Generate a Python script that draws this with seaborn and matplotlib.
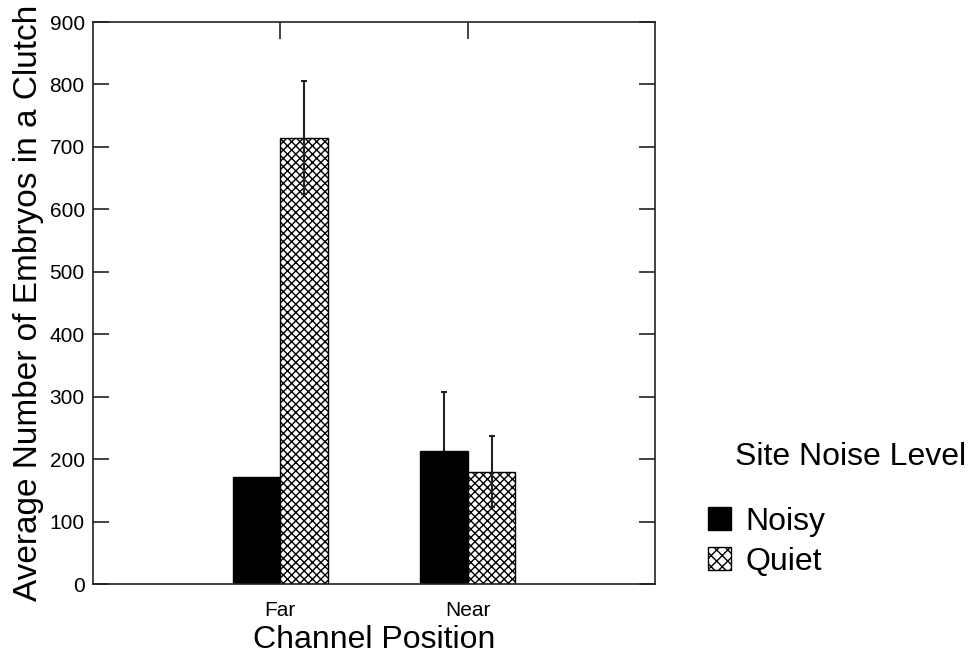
import matplotlib
matplotlib.use("Agg")
import matplotlib.pyplot as plt
from matplotlib.patches import Patch
import seaborn as sns
import pandas as pd

# ---- data ----
positions = ["Far", "Near"]
noise_levels = ["Noisy", "Quiet"]
noisy_means = [172, 213]
quiet_means = [715, 180]
noisy_err = [0, 95]
quiet_err = [90, 57]
y_ticks = [0, 100, 200, 300, 400, 500, 600, 700, 800, 900]

rows = []
for i, p in enumerate(positions):
    rows.append({"Channel Position": p, "Noise": "Noisy", "Value": noisy_means[i], "Err": noisy_err[i]})
    rows.append({"Channel Position": p, "Noise": "Quiet", "Value": quiet_means[i], "Err": quiet_err[i]})
df = pd.DataFrame(rows)

sns.set_style("white")
plt.rcParams["font.family"] = ["Liberation Sans", "DejaVu Sans"]
plt.rcParams["hatch.linewidth"] = 1.0
plt.rcParams["hatch.color"] = "black"
plt.rcParams["text.color"] = "black"
plt.rcParams["axes.labelcolor"] = "black"
plt.rcParams["xtick.color"] = "black"
plt.rcParams["ytick.color"] = "black"

W, H = 976, 657
fig = plt.figure(figsize=(W / 100, H / 100), dpi=100)
ax = fig.add_axes([93 / W, 73 / H, 562 / W, 562 / H])

sns.barplot(data=df, x="Channel Position", y="Value", hue="Noise",
            order=positions, hue_order=noise_levels,
            palette={"Noisy": "black", "Quiet": "white"},
            width=0.51, errorbar=None, legend=False,
            edgecolor="black", linewidth=1.0, ax=ax)

errs = {"Noisy": noisy_err, "Quiet": quiet_err}
for lvl, cont in zip(noise_levels, ax.containers):
    xs, ys, es = [], [], []
    for j, bar in enumerate(cont):
        if lvl == "Quiet":
            bar.set_hatch("xxxx")
        e = errs[lvl][j]
        if e > 0:
            xs.append(bar.get_x() + bar.get_width() / 2)
            ys.append(bar.get_height())
            es.append(e)
    if xs:
        z = 0.5 if lvl == "Noisy" else 5
        ax.errorbar(xs, ys, yerr=es, fmt="none", ecolor="#222222",
                    elinewidth=1.5, capsize=2.5, capthick=1.5, zorder=z)

ax.set_xlim(-1, 2)
ax.set_ylim(0, 900)
ax.set_yticks(y_ticks)
ax.set_yticklabels([str(v) for v in y_ticks], fontsize=15)
ax.set_xticks([0, 1])
ax.set_xticklabels(positions, fontsize=15)

for s in ax.spines.values():
    s.set_visible(True)
    s.set_color("#222222")
    s.set_linewidth(1.2)

ax.tick_params(axis="y", direction="in", length=11.5, width=1.2, color="#222222",
               left=True, right=True, labelleft=True, labelright=False, pad=6)
ax.tick_params(axis="x", direction="in", length=12, width=1.2, color="#222222",
               bottom=False, top=True, labelbottom=True, labeltop=False, pad=12)

ax.set_xlabel("Channel Position", fontsize=23, labelpad=4)
ax.set_ylabel("Average Number of Embryos in a Clutch", fontsize=24, labelpad=4)

# legend
fig.text(735 / W, 1 - 457 / H, "Site Noise Level", fontsize=23, ha="left", va="center")
handles = [Patch(facecolor="black", edgecolor="black", label="Noisy"),
           Patch(facecolor="white", edgecolor="black", hatch="xxx", label="Quiet")]
fig.legend(handles=handles, loc="upper left",
           bbox_to_anchor=(708 / W, 1 - 507 / H), frameon=False,
           fontsize=23, handlelength=0.72, handleheight=0.72,
           handletextpad=0.45, labelspacing=0.3, borderpad=0, borderaxespad=0)

fig.savefig("out.png", dpi=100)
